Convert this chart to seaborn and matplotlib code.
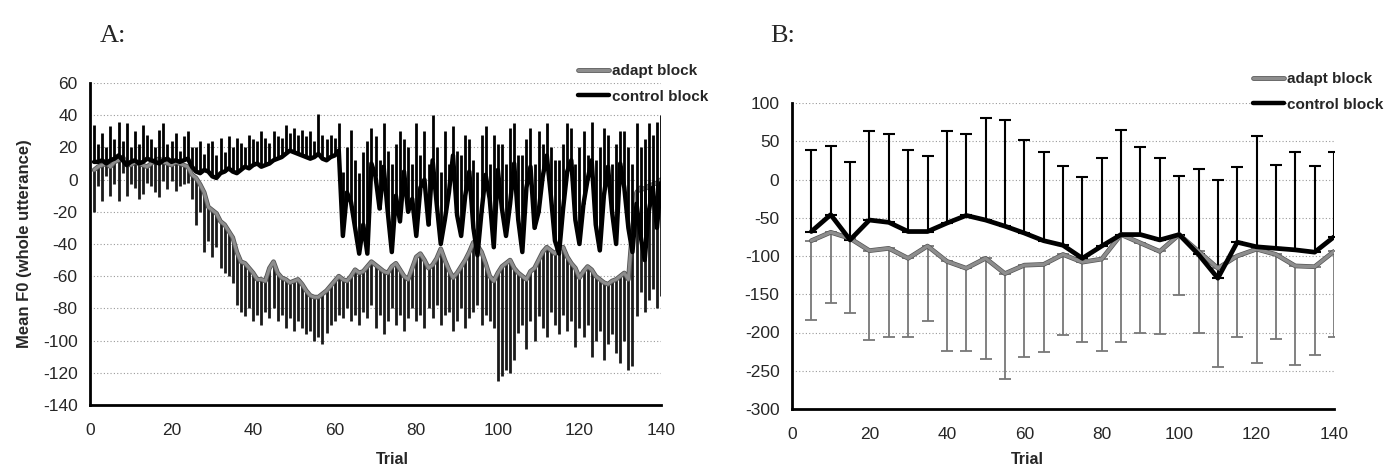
import numpy as np
import pandas as pd
import matplotlib
matplotlib.use("Agg")
import matplotlib.pyplot as plt
import matplotlib.patheffects as pe
from matplotlib.lines import Line2D
from matplotlib.ticker import MultipleLocator
import seaborn as sns

# ---------------- data: panel A (per trial) ----------------
trials_a = list(range(1, 141))

adapt_mean_a = [
    6, 8, 9, 10, 8, 11, 12, 14, 10, 9, 11, 10, 9, 8, 10, 12, 13, 11, 10, 9, 11, 10, 9, 8,
    3, 1, -3, -8, -17, -19, -21, -26, -28, -32, -36,
    -45, -51, -52, -55, -58, -62, -62, -63, -55, -51, -58, -61, -62, -64, -63, -62, -65, -69,
    -72, -73, -73, -71, -69, -66, -63, -60,
    -62, -63, -60, -56, -58, -57, -54, -51, -53, -55, -57, -58, -54, -52, -56, -60, -62, -55,
    -48, -46, -50, -55, -53, -49, -43, -50, -56, -61, -58, -54, -50, -45, -39, -41, -45, -52,
    -60, -63, -58, -54, -52, -50, -55,
    -58, -60, -62, -57, -55, -50, -45, -42, -44, -46, -43, -42, -48, -52, -55, -61, -57, -54,
    -56, -60, -62, -64, -65, -63, -62, -60, -58, -62, -30, -8, -5, -6, -4, -3, -2, 0]

adapt_err_a = [
    26, 12, 22, 8, 18, 14, 25, 10, 20, 12, 16, 22, 18, 10, 14, 20, 24, 12, 16, 10, 18, 14, 12, 10,
    15, 29, 17, 37, 21, 29, 21, 29, 30, 28, 28,
    33, 31, 33, 25, 30, 22, 28, 19, 31, 29, 30, 23, 30, 22, 31, 26, 27, 27, 22, 27, 25, 31, 26,
    24, 25, 24,
    24, 17, 28, 28, 32, 25, 32, 27, 39, 29, 39, 30, 26, 38, 28, 34, 24, 25, 40, 38, 42, 25, 33,
    29, 47, 34, 26, 33, 30, 26, 42, 41, 43, 37, 45, 32, 28, 29, 67, 68, 66, 70, 57,
    37, 30, 43, 31, 45, 35, 47, 56, 38, 44, 53, 42, 46, 36, 49, 31, 41, 36, 54, 40, 32, 48, 37,
    33, 46, 54, 42, 56, 86, 77, 65, 76, 71, 65, 78, 72]

control_mean_a = [
    11, 11, 12, 10, 12, 13, 15, 12, 9, 11, 12, 10, 11, 13, 12, 11, 10, 12, 13, 11, 12, 11, 12, 13,
    8, 5, 4, 6, 5, 2, 1, 4, 5, 7, 5, 4, 6, 8, 7, 9, 10, 8, 9, 10, 12,
    13, 14, 16, 18, 17, 16, 15, 14, 13, 14, 16, 13, 12, 14, 15, 18,
    -35, -8, -14, -30, -46, -28, -46, 10, 2, -18, 8, -20, -45, -10, -26, 5, -20, -12, -35, -5,
    0, -28, 12, -15, -40, -25, -8, 15, -22, -35, -10, 5, -30, -47, -20, 3, -12, -42, 6, -18,
    -35, -15, 10, -25, -45, -5, 8, -30, -20, 2, 15, -10, -38, -46, -18, 5, 12, -25, -40, -15,
    0, 12, -28, -44, -10, 8, -20, -40, 10, -5, -30, -45, -15, -35, -50, -20, -5, -30, -2]

control_err_a = [
    23, 11, 17, 10, 21, 12, 21, 12, 26, 9, 18, 12, 23, 15, 13, 9, 21, 23, 9, 13, 17, 7, 15, 17,
    12, 15, 20, 10, 18, 22, 14, 22, 12, 20, 15, 22, 17, 12, 21, 16, 14, 22, 17, 13, 18,
    14, 12, 18, 11, 15, 12, 16, 13, 17, 10, 25, 15, 13, 14, 11, 17,
    40, 28, 45, 42, 50, 45, 70, 22, 25, 30, 27, 38, 55, 32, 56, 20, 40, 22, 70, 20,
    30, 38, 28, 35, 45, 55, 18, 18, 40, 50, 38, 20, 42, 52, 48, 30, 22, 70, 16, 40,
    45, 47, 25, 40, 60, 30, 24, 40, 50, 20, 20, 30, 50, 58, 40, 30, 20, 35, 60, 45,
    15, 24, 40, 64, 42, 20, 30, 62, 20, 35, 50, 55, 50, 55, 75, 55, 33, 66, 42]

# ---------------- data: panel B (5-trial bins) ----------------
trials_b = [5, 10, 15, 20, 25, 30, 35, 40, 45, 50, 55, 60, 65, 70,
            75, 80, 85, 90, 95, 100, 105, 110, 115, 120, 125, 130, 135, 140]
control_mean_b = [-68, -46, -79, -53, -56, -68, -68, -57, -47, -53, -61, -70, -80, -86,
                  -103, -87, -72, -72, -79, -72, -98, -129, -82, -88, -90, -92, -95, -75]
control_err_b = [106, 90, 102, 117, 116, 106, 99, 121, 107, 133, 139, 122, 116, 104,
                 106, 115, 137, 114, 107, 76, 112, 128, 98, 145, 109, 128, 113, 111]
adapt_mean_b = [-80, -69, -77, -93, -90, -103, -87, -107, -116, -103, -123, -112, -111, -98,
                -108, -104, -72, -83, -94, -72, -94, -116, -100, -91, -98, -113, -114, -94]
adapt_err_b = [104, 92, 98, 117, 116, 103, 98, 117, 108, 131, 138, 120, 114, 105,
               105, 120, 140, 118, 108, 79, 106, 129, 106, 149, 110, 130, 115, 112]

series_names = ["adapt block", "control block"]
yticks_a = [60, 40, 20, 0, -20, -40, -60, -80, -100, -120, -140]
yticks_b = [100, 50, 0, -50, -100, -150, -200, -250, -300]
xticks = [0, 20, 40, 60, 80, 100, 120, 140]

# ---------------- style ----------------
sns.set_style("white")
plt.rcParams["font.family"] = ["Liberation Sans", "DejaVu Sans"]
plt.rcParams["axes.unicode_minus"] = False

GRAY = "#8d8d8d"
BLACK = "#000000"

fig = plt.figure(figsize=(13.89, 4.71), dpi=100)
axA = fig.add_axes([90 / 1389, 1 - 405 / 471, 571 / 1389, 322 / 471])
axB = fig.add_axes([792 / 1389, 1 - 409 / 471, 542 / 1389, 306 / 471])

dfA = pd.DataFrame({"trial": trials_a, "adapt": adapt_mean_a, "control": control_mean_a})
dfB = pd.DataFrame({"trial": trials_b, "adapt": adapt_mean_b, "control": control_mean_b})

gray_fx = [pe.Stroke(linewidth=3.4, foreground="#555555"), pe.Normal()]

# ----- panel A -----
zA = np.zeros(len(trials_a))
axA.errorbar(trials_a, adapt_mean_a, yerr=[adapt_err_a, zA], fmt="none",
             ecolor="#1a1a1a", elinewidth=2.0, capsize=0, zorder=2)
sns.lineplot(data=dfA, x="trial", y="adapt", ax=axA, color=GRAY, lw=2.2,
             legend=False, zorder=3, path_effects=gray_fx)
axA.errorbar(trials_a, control_mean_a, yerr=[zA, control_err_a], fmt="none",
             ecolor=BLACK, elinewidth=2.0, capsize=0, zorder=4)
sns.lineplot(data=dfA, x="trial", y="control", ax=axA, color=BLACK, lw=3.2,
             legend=False, zorder=5)
axA.set_xlim(0, 140)
axA.set_ylim(-140, 60)
axA.set_yticks(yticks_a)
axA.set_xticks(xticks)
axA.xaxis.set_minor_locator(MultipleLocator(5))
axA.set_ylabel("Mean F0 (whole utterance)", fontsize=12, fontweight="bold", labelpad=8)
axA.set_xlabel("Trial", fontsize=11.5, fontweight="bold")
axA.xaxis.set_label_coords(0.53, -0.145)
axA.xaxis.label.set_va("top")

# ----- panel B -----
zB = np.zeros(len(trials_b))
axB.errorbar(trials_b, adapt_mean_b, yerr=[adapt_err_b, zB], fmt="none",
             ecolor="#777777", elinewidth=1.3, capsize=4, capthick=1.3, zorder=2)
axB.errorbar(trials_b, control_mean_b, yerr=[zB, control_err_b], fmt="none",
             ecolor=BLACK, elinewidth=1.5, capsize=4, capthick=1.5, zorder=3)
sns.lineplot(data=dfB, x="trial", y="adapt", ax=axB, color=GRAY, lw=2.4,
             legend=False, zorder=4, path_effects=gray_fx)
sns.lineplot(data=dfB, x="trial", y="control", ax=axB, color=BLACK, lw=3.4,
             legend=False, zorder=5)
axB.set_xlim(0, 140)
axB.set_ylim(-300, 100)
axB.set_yticks(yticks_b)
axB.set_xticks(xticks)
axB.xaxis.set_minor_locator(MultipleLocator(5))
axB.set_ylabel("")
axB.set_xlabel("Trial", fontsize=11.5, fontweight="bold")
axB.xaxis.set_label_coords(0.435, -0.14)
axB.xaxis.label.set_va("top")

for ax in (axA, axB):
    ax.grid(axis="y", color="#9a9a9a", linestyle=(0, (1, 2)), lw=0.8)
    ax.grid(axis="x", visible=False)
    ax.set_axisbelow(True)
    for s in ("top", "right"):
        ax.spines[s].set_visible(False)
    for s in ("left", "bottom"):
        ax.spines[s].set_color(BLACK)
        ax.spines[s].set_linewidth(2.0)
    ax.tick_params(axis="both", which="both", direction="out", color=BLACK,
                   width=1.5, length=5, labelsize=12.5, pad=4)
    ax.tick_params(axis="x", which="major", pad=8)
    ax.set_facecolor("white")

# ----- legends -----
handles = [Line2D([0], [0], color=GRAY, lw=2.2, path_effects=gray_fx),
           Line2D([0], [0], color=BLACK, lw=3.2)]
legkw = dict(frameon=False, handlelength=2.0, handletextpad=0.2, labelspacing=0.75,
             loc="upper left", prop={"weight": "bold", "size": 11}, borderaxespad=0)
fig.legend(handles, series_names, bbox_to_anchor=(572 / 1389, 1 - 58 / 471), **legkw)
fig.legend(handles, series_names, bbox_to_anchor=(1247 / 1389, 1 - 66 / 471), **legkw)

# ----- panel titles -----
fig.text(100 / 1389, 1 - 36 / 471, "A:", fontsize=19, family=["Liberation Serif"], va="center")
fig.text(770 / 1389, 1 - 36 / 471, "B:", fontsize=19, family=["Liberation Serif"], va="center")

fig.savefig("out.png", dpi=100, facecolor="white")
